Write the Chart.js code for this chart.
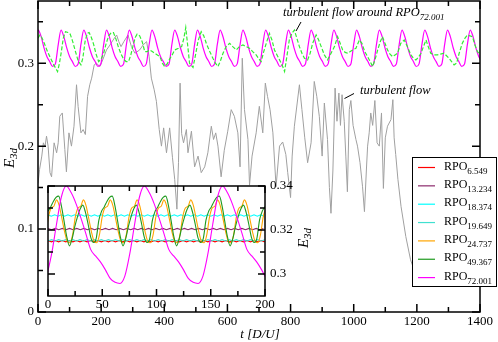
<!DOCTYPE html>
<html>
<head>
<meta charset="utf-8">
<script src="https://cdn.jsdelivr.net/npm/chart.js@4.4.1/dist/chart.umd.min.js"></script>
<style>
  html, body { margin: 0; padding: 0; background: #fff; }
  #wrap { position: relative; width: 498px; height: 342px; }
  #main { position: absolute; left: 0; top: 0; }
  #inset { position: absolute; left: 40px; top: 180px; }
</style>
</head>
<body>
<div id="wrap">
  <canvas id="main" width="498" height="342"></canvas>
  <canvas id="inset" width="280" height="135"></canvas>
</div>
<script>
// ----------------------- Data: main panel ----------------------------------
const mainXTicks = [0, 200, 400, 600, 800, 1000, 1200, 1400];
const mainXMinor = [100, 300, 500, 700, 900, 1100, 1300];
const mainYTicks = [0, 0.1, 0.2, 0.3];
const mainYMinor = [0.05, 0.15, 0.25, 0.35];

// turbulent flow (grey curve)
const turbT = [
  0, 5, 12, 17, 22, 27, 32, 38, 43, 51,
  59, 64, 69, 77, 85, 90, 98, 106, 114, 122,
  127, 136, 143, 150, 157, 164, 170, 178, 185, 196,
  205, 217, 228, 238, 249, 256, 263, 272, 285, 296,
  307, 322, 333, 344, 352, 359, 368, 375, 384, 391,
  398, 407, 417, 426, 433, 440, 445, 450, 455, 461,
  470, 475, 486, 496, 507, 517, 528, 538, 549, 556,
  563, 570, 580, 590, 601, 612, 622, 633, 640, 647,
  654, 665, 670, 678, 691, 701, 712, 720, 727, 735,
  744, 754, 765, 775, 785, 791, 800, 805, 812, 828,
  836, 845, 854, 865, 875, 883, 891, 900, 907, 917,
  923, 928, 934, 941, 947, 953, 958, 963, 970, 975,
  980, 986, 991, 998, 1007, 1012, 1020, 1028, 1034, 1040,
  1044, 1049, 1054, 1060, 1067, 1074, 1081, 1088, 1094, 1100,
  1107, 1118, 1124, 1128, 1133, 1140, 1150, 1165, 1180, 1195,
  1205
];
const turbE = [
  0.155, 0.172, 0.188, 0.204, 0.199, 0.212, 0.200, 0.168, 0.163, 0.204,
  0.192, 0.204, 0.236, 0.240, 0.196, 0.169, 0.216, 0.200, 0.224, 0.274,
  0.248, 0.216, 0.220, 0.214, 0.260, 0.274, 0.282, 0.298, 0.300, 0.296,
  0.304, 0.316, 0.322, 0.328, 0.334, 0.326, 0.320, 0.326, 0.334, 0.320,
  0.312, 0.316, 0.322, 0.326, 0.308, 0.282, 0.268, 0.254, 0.220, 0.200,
  0.222, 0.192, 0.222, 0.186, 0.160, 0.124, 0.180, 0.276, 0.215, 0.204,
  0.220, 0.192, 0.218, 0.175, 0.188, 0.168, 0.175, 0.192, 0.224, 0.208,
  0.216, 0.200, 0.163, 0.195, 0.218, 0.244, 0.236, 0.216, 0.175, 0.306,
  0.244, 0.208, 0.153, 0.188, 0.216, 0.248, 0.216, 0.276, 0.260, 0.244,
  0.216, 0.151, 0.200, 0.205, 0.190, 0.168, 0.138, 0.188, 0.224, 0.274,
  0.244, 0.210, 0.180, 0.204, 0.278, 0.260, 0.236, 0.188, 0.252, 0.208,
  0.150, 0.119, 0.170, 0.270, 0.230, 0.264, 0.225, 0.262, 0.230, 0.188,
  0.145, 0.244, 0.255, 0.225, 0.208, 0.200, 0.180, 0.151, 0.121, 0.170,
  0.200, 0.216, 0.240, 0.225, 0.255, 0.204, 0.200, 0.240, 0.149, 0.210,
  0.224, 0.232, 0.256, 0.210, 0.190, 0.160, 0.127, 0.091, 0.063, 0.047,
  0.042
];

// turbulent flow around RPO72.001 (green dashed)
const aroundT = [
  0, 6, 12, 20, 30, 40, 50, 56, 62, 68,
  74, 80, 87, 95, 102, 110, 118, 127, 136, 142,
  149, 156, 162, 169, 176, 184, 192, 200, 208, 216,
  224, 232, 239, 247, 255, 263, 271, 279, 287, 294,
  301, 308, 314, 322, 330, 338, 346, 354, 362, 370,
  378, 386, 394, 401, 409, 417, 425, 433, 445, 455,
  462, 468, 474, 480, 491, 500, 507, 517, 525, 533,
  544, 554, 562, 570, 578, 586, 596, 607, 617, 628,
  638, 649, 660, 670, 680, 691, 700, 707, 715, 723,
  733, 741, 749, 757, 765, 773, 781, 789, 796, 804,
  812, 820, 828, 836, 844, 854, 862, 870, 881, 889,
  897, 907, 917, 923, 931, 939, 949, 957, 965, 973,
  981, 989, 997, 1007, 1018, 1026, 1035, 1044, 1052, 1060,
  1068, 1076, 1084, 1091, 1099, 1107, 1115, 1123, 1131, 1139,
  1149, 1160, 1170, 1181, 1189, 1197, 1205, 1213, 1221, 1229,
  1236, 1244, 1255, 1265, 1275, 1286, 1294, 1302, 1310, 1318,
  1326, 1334, 1344, 1352, 1360, 1368, 1376, 1384, 1392, 1400
];
const aroundE = [
  0.330, 0.334, 0.331, 0.324, 0.314, 0.306, 0.298, 0.294, 0.290, 0.300,
  0.314, 0.330, 0.338, 0.337, 0.335, 0.326, 0.315, 0.303, 0.298, 0.306,
  0.326, 0.336, 0.337, 0.331, 0.323, 0.311, 0.302, 0.305, 0.312, 0.324,
  0.333, 0.337, 0.337, 0.329, 0.319, 0.311, 0.305, 0.302, 0.302, 0.310,
  0.321, 0.331, 0.335, 0.333, 0.326, 0.314, 0.314, 0.316, 0.314, 0.312,
  0.310, 0.308, 0.300, 0.296, 0.299, 0.305, 0.310, 0.316, 0.318, 0.320,
  0.330, 0.343, 0.322, 0.300, 0.295, 0.312, 0.327, 0.338, 0.333, 0.324,
  0.314, 0.306, 0.300, 0.296, 0.303, 0.312, 0.320, 0.324, 0.320, 0.316,
  0.320, 0.322, 0.320, 0.318, 0.314, 0.310, 0.305, 0.302, 0.314, 0.324,
  0.336, 0.328, 0.316, 0.310, 0.304, 0.298, 0.290, 0.310, 0.328, 0.336,
  0.340, 0.330, 0.320, 0.312, 0.306, 0.304, 0.312, 0.324, 0.334, 0.328,
  0.320, 0.310, 0.304, 0.308, 0.314, 0.320, 0.332, 0.324, 0.316, 0.313,
  0.312, 0.314, 0.316, 0.318, 0.328, 0.324, 0.314, 0.308, 0.302, 0.296,
  0.305, 0.316, 0.326, 0.332, 0.324, 0.316, 0.311, 0.308, 0.310, 0.312,
  0.324, 0.328, 0.320, 0.310, 0.306, 0.304, 0.307, 0.312, 0.320, 0.328,
  0.320, 0.312, 0.310, 0.310, 0.311, 0.312, 0.309, 0.306, 0.302, 0.298,
  0.300, 0.312, 0.324, 0.330, 0.334, 0.333, 0.332, 0.322, 0.314, 0.311
];

// RPO72.001 repeated over the main panel, sampled every 9 time units from t = -17
const rpo72Start = -17;
const rpo72Step = 9;
const rpo72E = [
  0.2990, 0.3225, 0.3400, 0.3320, 0.3185, 0.3082, 0.3020, 0.2962,
  0.2992, 0.3222, 0.3398, 0.3318, 0.3184, 0.3080, 0.3019, 0.2960,
  0.2990, 0.3226, 0.3400, 0.3321, 0.3186, 0.3082, 0.3020, 0.2961,
  0.2991, 0.3224, 0.3399, 0.3320, 0.3185, 0.3081, 0.3021, 0.2962,
  0.2990, 0.3225, 0.3400, 0.3319, 0.3184, 0.3082, 0.3020, 0.2960,
  0.2992, 0.3223, 0.3398, 0.3320, 0.3185, 0.3080, 0.3019, 0.2961,
  0.2990, 0.3225, 0.3400, 0.3321, 0.3186, 0.3082, 0.3020, 0.2962,
  0.2991, 0.3224, 0.3399, 0.3320, 0.3185, 0.3081, 0.3021, 0.2960,
  0.2990, 0.3226, 0.3400, 0.3319, 0.3184, 0.3082, 0.3020, 0.2961,
  0.2992, 0.3223, 0.3398, 0.3320, 0.3185, 0.3080, 0.3019, 0.2962,
  0.2990, 0.3225, 0.3400, 0.3321, 0.3186, 0.3082, 0.3020, 0.2960,
  0.2991, 0.3224, 0.3399, 0.3320, 0.3185, 0.3081, 0.3021, 0.2961,
  0.2990, 0.3225, 0.3400, 0.3319, 0.3184, 0.3082, 0.3020, 0.2962,
  0.2992, 0.3223, 0.3398, 0.3320, 0.3185, 0.3080, 0.3019, 0.2960,
  0.2990, 0.3226, 0.3400, 0.3321, 0.3186, 0.3082, 0.3020, 0.2961,
  0.2991, 0.3224, 0.3399, 0.3320, 0.3185, 0.3081, 0.3021, 0.2962,
  0.2990, 0.3225, 0.3400, 0.3319, 0.3184, 0.3082, 0.3020, 0.2960,
  0.2992, 0.3223, 0.3398, 0.3320, 0.3185, 0.3080, 0.3019, 0.2961,
  0.2990, 0.3225, 0.3400, 0.3321, 0.3186, 0.3082, 0.3020, 0.2962,
  0.2991, 0.3224, 0.3399, 0.3320, 0.3185, 0.3081, 0.3021, 0.2960
];

// ----------------------- Data: inset ---------------------------------------
const insetXTicks = [0, 50, 100, 150, 200];
const insetXMinor = [25, 75, 125, 175];
const insetYTicks = [0.30, 0.32, 0.34];
const insetYMinor = [0.31, 0.33];

const rpoNames = ['6.549', '13.234', '18.374', '19.649', '24.737', '49.367', '72.001'];

// every orbit is sampled on its own regular time grid (start, step)
const rpoStart = [0, 0, 0, 0, -2.0, 0, -1.2];
const rpoStep = [3.2745, 3.3085, 3.0623, 3.2748, 2.4737, 2.468, 4.5];

const rpo6549E = [
  0.3152, 0.3146, 0.3152, 0.3146, 0.3152, 0.3146, 0.3152, 0.3146, 0.3152, 0.3146,
  0.3152, 0.3146, 0.3152, 0.3146, 0.3152, 0.3146, 0.3152, 0.3146, 0.3152, 0.3146,
  0.3152, 0.3146, 0.3152, 0.3146, 0.3152, 0.3146, 0.3152, 0.3146, 0.3152, 0.3146,
  0.3152, 0.3146, 0.3152, 0.3146, 0.3152, 0.3146, 0.3152, 0.3146, 0.3152, 0.3146,
  0.3152, 0.3146, 0.3152, 0.3146, 0.3152, 0.3146, 0.3152, 0.3146, 0.3152, 0.3146,
  0.3152, 0.3146, 0.3152, 0.3146, 0.3152, 0.3146, 0.3152, 0.3146, 0.3152, 0.3146,
  0.3152, 0.3146
];
const rpo13234E = [
  0.3207, 0.3201, 0.3207, 0.3201, 0.3207, 0.3201, 0.3207, 0.3201, 0.3207, 0.3201,
  0.3207, 0.3201, 0.3207, 0.3201, 0.3207, 0.3201, 0.3207, 0.3201, 0.3207, 0.3201,
  0.3207, 0.3201, 0.3207, 0.3201, 0.3207, 0.3201, 0.3207, 0.3201, 0.3207, 0.3201,
  0.3207, 0.3201, 0.3207, 0.3201, 0.3207, 0.3201, 0.3207, 0.3201, 0.3207, 0.3201,
  0.3207, 0.3201, 0.3207, 0.3201, 0.3207, 0.3201, 0.3207, 0.3201, 0.3207, 0.3201,
  0.3207, 0.3201, 0.3207, 0.3201, 0.3207, 0.3201, 0.3207, 0.3201, 0.3207, 0.3201,
  0.3207
];
const rpo18374E = [
  0.3269, 0.3263, 0.3269, 0.3263, 0.3269, 0.3263, 0.3269, 0.3263, 0.3269, 0.3263,
  0.3269, 0.3263, 0.3269, 0.3263, 0.3269, 0.3263, 0.3269, 0.3263, 0.3269, 0.3263,
  0.3269, 0.3263, 0.3269, 0.3263, 0.3269, 0.3263, 0.3269, 0.3263, 0.3269, 0.3263,
  0.3269, 0.3263, 0.3269, 0.3263, 0.3269, 0.3263, 0.3269, 0.3263, 0.3269, 0.3263,
  0.3269, 0.3263, 0.3269, 0.3263, 0.3269, 0.3263, 0.3269, 0.3263, 0.3269, 0.3263,
  0.3269, 0.3263, 0.3269, 0.3263, 0.3269, 0.3263, 0.3269, 0.3263, 0.3269, 0.3263,
  0.3269, 0.3263, 0.3269, 0.3263, 0.3269, 0.3263
];
const rpo19649E = [
  0.3150, 0.3156, 0.3150, 0.3156, 0.3150, 0.3156, 0.3150, 0.3156, 0.3150, 0.3156,
  0.3150, 0.3156, 0.3150, 0.3156, 0.3150, 0.3156, 0.3150, 0.3156, 0.3150, 0.3156,
  0.3150, 0.3156, 0.3150, 0.3156, 0.3150, 0.3156, 0.3150, 0.3156, 0.3150, 0.3156,
  0.3150, 0.3156, 0.3150, 0.3156, 0.3150, 0.3156, 0.3150, 0.3156, 0.3150, 0.3156,
  0.3150, 0.3156, 0.3150, 0.3156, 0.3150, 0.3156, 0.3150, 0.3156, 0.3150, 0.3156,
  0.3150, 0.3156, 0.3150, 0.3156, 0.3150, 0.3156, 0.3150, 0.3156, 0.3150, 0.3156,
  0.3150, 0.3156
];
const rpo24737E = [
  0.3180, 0.3260, 0.3300, 0.3308, 0.3337, 0.3310, 0.3252, 0.3192, 0.3148, 0.3142,
  0.3180, 0.3260, 0.3300, 0.3308, 0.3337, 0.3310, 0.3252, 0.3192, 0.3148, 0.3142,
  0.3180, 0.3260, 0.3300, 0.3308, 0.3337, 0.3310, 0.3252, 0.3192, 0.3148, 0.3142,
  0.3180, 0.3260, 0.3300, 0.3308, 0.3337, 0.3310, 0.3252, 0.3192, 0.3148, 0.3142,
  0.3180, 0.3260, 0.3300, 0.3308, 0.3337, 0.3310, 0.3252, 0.3192, 0.3148, 0.3142,
  0.3180, 0.3260, 0.3300, 0.3308, 0.3337, 0.3310, 0.3252, 0.3192, 0.3148, 0.3142,
  0.3180, 0.3260, 0.3300, 0.3308, 0.3337, 0.3310, 0.3252, 0.3192, 0.3148, 0.3142,
  0.3180, 0.3260, 0.3300, 0.3308, 0.3337, 0.3310, 0.3252, 0.3192, 0.3148, 0.3142,
  0.3180, 0.3260, 0.3300
];
const rpo49367E = [
  0.3285, 0.3305, 0.3330, 0.3348, 0.3354, 0.3310, 0.3240, 0.3170, 0.3128, 0.3160,
  0.3215, 0.3260, 0.3295, 0.3313, 0.3280, 0.3225, 0.3165, 0.3143, 0.3162, 0.3245,
  0.3285, 0.3305, 0.3330, 0.3348, 0.3354, 0.3310, 0.3240, 0.3170, 0.3128, 0.3160,
  0.3215, 0.3260, 0.3295, 0.3313, 0.3280, 0.3225, 0.3165, 0.3143, 0.3162, 0.3245,
  0.3285, 0.3305, 0.3330, 0.3348, 0.3354, 0.3310, 0.3240, 0.3170, 0.3128, 0.3160,
  0.3215, 0.3260, 0.3295, 0.3313, 0.3280, 0.3225, 0.3165, 0.3143, 0.3162, 0.3245,
  0.3285, 0.3305, 0.3330, 0.3348, 0.3354, 0.3310, 0.3240, 0.3170, 0.3128, 0.3160,
  0.3215, 0.3260, 0.3295, 0.3313, 0.3280, 0.3225, 0.3165, 0.3143, 0.3162, 0.3245,
  0.3285, 0.3305, 0.3330
];
const rpo72001E = [
  0.2990, 0.3090, 0.3225, 0.3350, 0.3400, 0.3370, 0.3320, 0.3255,
  0.3185, 0.3112, 0.3082, 0.3055, 0.3020, 0.2980, 0.2962, 0.2957,
  0.2990, 0.3090, 0.3225, 0.3350, 0.3400, 0.3370, 0.3320, 0.3255,
  0.3185, 0.3112, 0.3082, 0.3055, 0.3020, 0.2980, 0.2962, 0.2957,
  0.2990, 0.3090, 0.3225, 0.3350, 0.3400, 0.3370, 0.3320, 0.3255,
  0.3185, 0.3112, 0.3082, 0.3055, 0.3020, 0.2980, 0.2962
];
const rpoValues = [rpo6549E, rpo13234E, rpo18374E, rpo19649E, rpo24737E, rpo49367E, rpo72001E];

// ----------------------- Styles --------------------------------------------
const SERIF = "'Liberation Serif', 'DejaVu Serif', serif";
const rpoColors = ['#ff0000', '#8b2a6b', '#00ffff', '#40e0d0', '#ffa500', '#1e9a1e', '#ff00ff'];

// ----------------------- Helpers -------------------------------------------
function toPoints(ts, es) {
  return ts.map((t, i) => ({ x: t, y: es[i] }));
}

function gridPoints(start, step, es) {
  return es.map((e, i) => ({ x: start + i * step, y: e }));
}

// fixed tick positions taken from the tick arrays
function fixedTicks(values) {
  return scale => { scale.ticks = values.map(v => ({ value: v })); };
}

// fixed axis size, and no extra room reserved for the end labels
function fixSize(prop, px) {
  return scale => {
    scale[prop] = px;
    scale.paddingTop = 0; scale.paddingBottom = 0;
    scale.paddingLeft = 0; scale.paddingRight = 0;
  };
}

// text followed by a lowered subscript, returns total width
function subText(ctx, x, y, text, sub, font, subFont, drop) {
  ctx.font = font;
  ctx.fillText(text, x, y);
  const w = ctx.measureText(text).width;
  ctx.font = subFont;
  ctx.fillText(sub, x + w, y + drop);
  return w + ctx.measureText(sub).width;
}

function subWidth(ctx, text, sub, font, subFont) {
  ctx.font = font;
  const w = ctx.measureText(text).width;
  ctx.font = subFont;
  return w + ctx.measureText(sub).width;
}

function line(ctx, x1, y1, x2, y2) {
  ctx.beginPath();
  ctx.moveTo(x1, y1);
  ctx.lineTo(x2, y2);
  ctx.stroke();
}

// box round the plot with inward ticks on all four sides
const framePlugin = {
  id: 'frame',
  afterDatasetsDraw(chart, args, opts) {
    const { ctx, chartArea: a, scales: { x, y } } = chart;
    ctx.save();
    ctx.strokeStyle = '#000';
    ctx.lineWidth = opts.lineWidth;
    ctx.beginPath();
    const tickX = (vals, len) => vals.forEach(v => {
      const px = x.getPixelForValue(v);
      ctx.moveTo(px, a.bottom); ctx.lineTo(px, a.bottom - len);
      ctx.moveTo(px, a.top); ctx.lineTo(px, a.top + len);
    });
    const tickY = (vals, len) => vals.forEach(v => {
      const py = y.getPixelForValue(v);
      ctx.moveTo(a.left, py); ctx.lineTo(a.left + len, py);
      ctx.moveTo(a.right, py); ctx.lineTo(a.right - len, py);
    });
    tickX(opts.xMajor, opts.major);
    tickX(opts.xMinor, opts.minor);
    tickY(opts.yMajor, opts.major);
    tickY(opts.yMinor, opts.minor);
    ctx.stroke();
    ctx.strokeRect(a.left, a.top, a.right - a.left, a.bottom - a.top);
    ctx.restore();
  }
};

// axis titles, annotations and legend of the main panel
const mainTextPlugin = {
  id: 'mainText',
  afterDraw(chart) {
    const ctx = chart.ctx;
    ctx.save();
    ctx.fillStyle = '#000';
    ctx.strokeStyle = '#000';
    ctx.textBaseline = 'alphabetic';
    ctx.textAlign = 'left';

    // x title
    ctx.font = `italic 13px ${SERIF}`;
    const xt = 't [D/U]';
    ctx.fillText(xt, 260 - ctx.measureText(xt).width / 2, 338);

    // y title, rotated
    ctx.save();
    ctx.translate(14, 158);
    ctx.rotate(-Math.PI / 2);
    const fE = `italic 15px ${SERIF}`, fS = `italic 11px ${SERIF}`;
    const wy = subWidth(ctx, 'E', '3d', fE, fS);
    subText(ctx, -wy / 2, 0, 'E', '3d', fE, fS, 3);
    ctx.restore();

    // annotations
    ctx.lineWidth = 1;
    const fA = `italic 12.5px ${SERIF}`, fAS = `italic 9px ${SERIF}`;
    subText(ctx, 283, 16, 'turbulent flow around RPO', '72.001', fA, fAS, 4);
    line(ctx, 301, 22, 296, 31);
    ctx.font = fA;
    ctx.fillText('turbulent flow', 360, 94);
    line(ctx, 354, 93.5, 344.5, 98.5);

    // legend (sticks out past the right axis, as in the original)
    ctx.fillStyle = '#fff';
    ctx.fillRect(412, 157, 85, 130);
    ctx.lineWidth = 1;
    ctx.strokeRect(412.5, 157.5, 84, 129);
    const fL = `12px ${SERIF}`, fLS = `9px ${SERIF}`;
    rpoNames.forEach((name, i) => {
      const yc = 165 + i * 18.35;
      ctx.strokeStyle = rpoColors[i];
      ctx.lineWidth = 1.2;
      line(ctx, 418, yc + 2.5, 435, yc + 2.5);
      ctx.fillStyle = '#000';
      subText(ctx, 444, yc + 4.5, 'RPO', name, fL, fLS, 4);
    });
    ctx.restore();
  }
};

const insetTextPlugin = {
  id: 'insetText',
  afterDraw(chart) {
    const ctx = chart.ctx;
    ctx.save();
    ctx.fillStyle = '#000';
    ctx.textBaseline = 'alphabetic';
    ctx.textAlign = 'left';
    ctx.translate(268, 58);
    ctx.rotate(-Math.PI / 2);
    const fE = `italic 15px ${SERIF}`, fS = `italic 11px ${SERIF}`;
    const w = subWidth(ctx, 'E', '3d', fE, fS);
    subText(ctx, -w / 2, 0, 'E', '3d', fE, fS, 3);
    ctx.restore();
  }
};

const lineDefaults = { showLine: true, pointRadius: 0, pointHoverRadius: 0, fill: false };
const tickFont = { family: SERIF, size: 13 };
const numLabel = v => String(+Number(v).toFixed(3));

// ----------------------- Main chart ----------------------------------------
new Chart(document.getElementById('main'), {
  type: 'scatter',
  data: {
    datasets: [
      { label: 'turbulent flow', data: toPoints(turbT, turbE),
        borderColor: '#a0a0a0', borderWidth: 1, order: 2 },
      { label: 'RPO72.001', data: gridPoints(rpo72Start, rpo72Step, rpo72E),
        borderColor: '#ff00ff', borderWidth: 1.2, cubicInterpolationMode: 'monotone', order: 1 },
      { label: 'turbulent flow around RPO72.001', data: toPoints(aroundT, aroundE),
        borderColor: '#33ee33', borderWidth: 1.2, borderDash: [4, 2], order: 0 }
    ].map(d => Object.assign({}, lineDefaults, d))
  },
  options: {
    responsive: false,
    devicePixelRatio: 1,
    animation: false,
    events: [],
    layout: { padding: { top: 1, right: 18, left: 0, bottom: 0 } },
    plugins: {
      legend: { display: false },
      tooltip: { enabled: false },
      frame: { lineWidth: 1.5, major: 8, minor: 5,
               xMajor: mainXTicks, xMinor: mainXMinor, yMajor: mainYTicks, yMinor: mainYMinor }
    },
    scales: {
      x: {
        type: 'linear', min: 0, max: 1400,
        afterBuildTicks: fixedTicks(mainXTicks),
        afterFit: fixSize('height', 30),
        grid: { display: false, drawTicks: false },
        border: { display: false },
        ticks: { font: tickFont, color: '#000', padding: 2, maxRotation: 0, callback: numLabel }
      },
      y: {
        min: 0, max: 0.375,
        afterBuildTicks: fixedTicks(mainYTicks),
        afterFit: fixSize('width', 38),
        grid: { display: false, drawTicks: false },
        border: { display: false },
        ticks: { font: tickFont, color: '#000', padding: 4, callback: numLabel }
      }
    }
  },
  plugins: [framePlugin, mainTextPlugin]
});

// ----------------------- Inset chart ---------------------------------------
new Chart(document.getElementById('inset'), {
  type: 'scatter',
  data: {
    datasets: rpoNames.map((name, i) => Object.assign({}, lineDefaults, {
      label: 'RPO' + name,
      data: gridPoints(rpoStart[i], rpoStep[i], rpoValues[i]),
      borderColor: rpoColors[i],
      borderWidth: 1.1,
      cubicInterpolationMode: i >= 4 ? 'monotone' : 'default',
      order: rpoNames.length - i
    }))
  },
  options: {
    responsive: false,
    devicePixelRatio: 1,
    animation: false,
    events: [],
    layout: { padding: { top: 6, left: 8, right: 0, bottom: 0 } },
    plugins: {
      legend: { display: false },
      tooltip: { enabled: false },
      frame: { lineWidth: 1.5, major: 7, minor: 5,
               xMajor: insetXTicks, xMinor: insetXMinor, yMajor: insetYTicks, yMinor: insetYMinor }
    },
    scales: {
      x: {
        type: 'linear', min: 0, max: 200,
        afterBuildTicks: fixedTicks(insetXTicks),
        afterFit: fixSize('height', 19),
        grid: { display: false, drawTicks: false },
        border: { display: false },
        ticks: { font: tickFont, color: '#000', padding: 1, maxRotation: 0, callback: numLabel }
      },
      y: {
        position: 'right',
        min: 0.29, max: 0.34,
        afterBuildTicks: fixedTicks(insetYTicks),
        afterFit: fixSize('width', 55),
        grid: { display: false, drawTicks: false },
        border: { display: false },
        ticks: { font: tickFont, color: '#000', padding: 5, callback: numLabel }
      }
    }
  },
  plugins: [framePlugin, insetTextPlugin]
});
</script>
</body>
</html>
